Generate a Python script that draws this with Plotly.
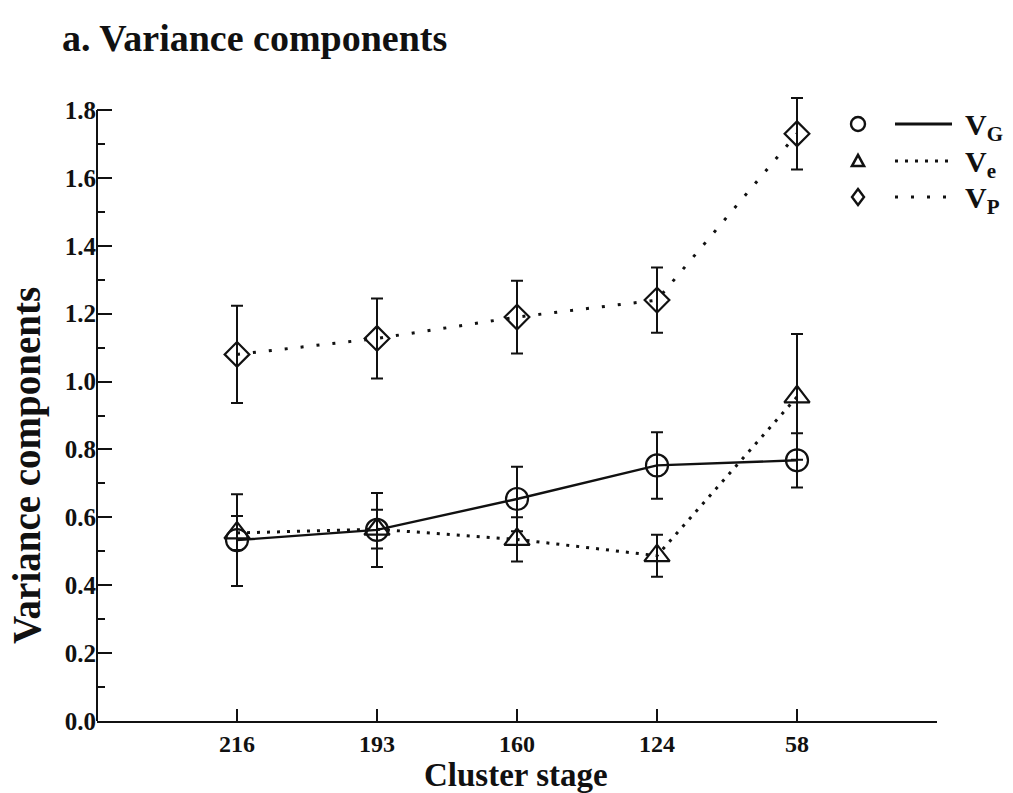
import plotly.graph_objects as go

# ---- data ----
stages = ["216", "193", "160", "124", "58"]
stage_pos = [1, 2, 3, 4, 5]

vg = [0.533, 0.563, 0.654, 0.753, 0.768]
vg_err = [0.135, 0.109, 0.095, 0.098, 0.080]

ve = [0.554, 0.565, 0.535, 0.487, 0.955]
ve_err = [0.050, 0.057, 0.065, 0.062, 0.185]

vp = [1.080, 1.127, 1.190, 1.240, 1.730]
vp_err = [0.143, 0.118, 0.107, 0.096, 0.105]

y_ticks = [0.0, 0.2, 0.4, 0.6, 0.8, 1.0, 1.2, 1.4, 1.6, 1.8]
y_ticktext = ["0.0", "0.2", "0.4", "0.6", "0.8", "1.0", "1.2", "1.4", "1.6", "1.8"]

FONT = "Liberation Serif"
BLACK = "#111111"

fig = go.Figure()

def add_series(y, err, symbol, size, dash, width):
    fig.add_trace(go.Scatter(
        x=stage_pos, y=y, mode="lines+markers",
        line=dict(color=BLACK, width=width, dash=dash),
        marker=dict(symbol=symbol, size=size, color=BLACK,
                    line=dict(color=BLACK, width=2.2)),
        error_y=dict(type="data", array=err, visible=True,
                     color=BLACK, thickness=2, width=6),
        cliponaxis=False, showlegend=False,
    ))

add_series(vp, vp_err, "diamond-open", 19, "3px,13px", 3)
add_series(ve, ve_err, "triangle-up-open", 22, "3px,7px", 3)
add_series(vg, vg_err, "circle-open", 22, "solid", 2.4)

# ---- geometry ----
L, R, T, B = 97, 76, 96, 72
W, H = 1013, 793
pw, ph = W - L - R, H - T - B
Y_TOP = ph / ((H - B - 110) / 1.8)   # keep 1.8 at the same pixel row, leave headroom
def px(x):
    return (x - L) / pw
def py(y):
    return (H - B - y) / ph

# ---- hand-made legend (symbol, line sample, label) ----
rows = [124, 161, 197]
labels = ["<b>V<sub>G</sub></b>", "<b>V<sub>e</sub></b>", "<b>V<sub>P</sub></b>"]
dashes = ["solid", "3px,7px", "3px,13px"]
shapes = []
sym_x = px(858)
shapes.append(dict(type="circle", xref="paper", yref="paper",
                   xsizemode="pixel", ysizemode="pixel",
                   xanchor=sym_x, yanchor=py(rows[0]),
                   x0=-7, x1=7, y0=-7, y1=7,
                   line=dict(color=BLACK, width=2.4)))
shapes.append(dict(type="path", xref="paper", yref="paper",
                   xsizemode="pixel", ysizemode="pixel",
                   xanchor=sym_x, yanchor=py(rows[1]),
                   path="M-6,-5 L6,-5 L0,6 Z",
                   line=dict(color=BLACK, width=2.6)))
shapes.append(dict(type="path", xref="paper", yref="paper",
                   xsizemode="pixel", ysizemode="pixel",
                   xanchor=sym_x, yanchor=py(rows[2]),
                   path="M0,8 L6,0 L0,-8 L-6,0 Z",
                   line=dict(color=BLACK, width=2.4)))
for r, d in zip(rows, dashes):
    shapes.append(dict(type="line", xref="paper", yref="paper",
                       x0=px(895), x1=px(952), y0=py(r), y1=py(r),
                       line=dict(color=BLACK, width=3, dash=d)))
# y axis line drawn only up to the last tick (1.8)
shapes.append(dict(type="line", xref="paper", yref="y",
                   x0=0, x1=0, y0=0, y1=y_ticks[-1],
                   line=dict(color=BLACK, width=2)))

annotations = []
for r, lab in zip(rows, labels):
    annotations.append(dict(text=lab, xref="paper", yref="paper",
                            x=px(963), y=py(r + 3), xanchor="left", yanchor="middle",
                            showarrow=False,
                            font=dict(family=FONT, size=30, color=BLACK)))
annotations.append(dict(text="<b>Variance components</b>", xref="paper", yref="paper",
                        x=px(27), y=py(466), textangle=-90, showarrow=False,
                        xanchor="center", yanchor="middle",
                        font=dict(family=FONT, size=39, color=BLACK)))
annotations.append(dict(text="<b>Cluster stage</b>", xref="paper", yref="paper",
                        x=px(516), y=py(775), showarrow=False,
                        xanchor="center", yanchor="middle",
                        font=dict(family=FONT, size=33, color=BLACK)))

fig.update_layout(
    width=W, height=H,
    margin=dict(l=L, r=R, t=T, b=B),
    paper_bgcolor="white", plot_bgcolor="white",
    title=dict(text="<b>a. Variance components</b>", xref="container", yref="container",
               x=62 / W, y=1 - 38 / H, xanchor="left", yanchor="middle",
               font=dict(family=FONT, size=38, color=BLACK)),
    shapes=shapes, annotations=annotations,
    font=dict(family=FONT, color=BLACK),
)
fig.update_xaxes(
    range=[0, 6.0], tickvals=stage_pos, ticktext=["<b>%s</b>" % s for s in stages],
    ticks="inside", ticklen=12, tickwidth=2, tickcolor=BLACK,
    showline=True, linecolor=BLACK, linewidth=2, showgrid=False, zeroline=False,
    tickfont=dict(family=FONT, size=24, color=BLACK),
    minor=dict(tickvals=[6.0], ticks="inside", ticklen=6, tickwidth=2, tickcolor=BLACK),
)
fig.update_yaxes(
    range=[0, Y_TOP], tickvals=y_ticks, ticktext=["<b>%s</b>" % s for s in y_ticktext],
    ticks="inside", ticklen=15, tickwidth=2, tickcolor=BLACK,
    showline=False, showgrid=False, zeroline=False,
    tickfont=dict(family=FONT, size=25, color=BLACK),
    minor=dict(tickvals=[0.1, 0.3, 0.5, 0.7, 0.9, 1.1, 1.3, 1.5, 1.7],
               ticks="inside", ticklen=8, tickwidth=2, tickcolor=BLACK),
)

fig.write_html("out.html")
